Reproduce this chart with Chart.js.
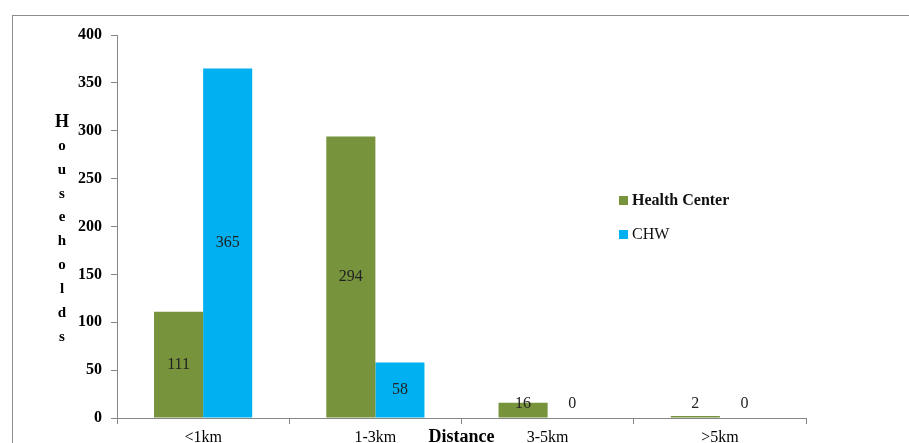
<!DOCTYPE html>
<html>
<head>
<meta charset="utf-8">
<script src="https://cdn.jsdelivr.net/npm/chart.js@4/dist/chart.umd.min.js"></script>
<style>
  html, body { margin: 0; padding: 0; background: #fff; }
  #wrap { width: 909px; height: 443px; }
</style>
</head>
<body>
<div id="wrap"><canvas id="c" width="909" height="443"></canvas></div>
<script>
// Distance categories and household counts per source of care
const distances = ['<1km', '1-3km', '3-5km', '>5km'];
const healthCenter = [111, 294, 16, 2];
const chw = [365, 58, 0, 0];
const yTicks = [0, 50, 100, 150, 200, 250, 300, 350, 400];
const seriesNames = ['Health Center', 'CHW'];
const yTitle = 'Households';
const xTitle = 'Distance';

const GREEN = '#77933C';
const BLUE = '#00B0F0';
const AXIS = '#868686';
const SERIF = '"Liberation Serif", "Times New Roman", serif';

// Outer frame around the whole chart
const framePlugin = {
  id: 'frame',
  beforeDraw(chart) {
    const ctx = chart.ctx;
    ctx.save();
    ctx.strokeStyle = '#8c8c8c';
    ctx.lineWidth = 1;
    ctx.strokeRect(12.5, 15.5, chart.width + 20, chart.height + 20);
    ctx.restore();
  }
};

// Value labels inside bars, axis titles and the legend
const annotatePlugin = {
  id: 'annotate',
  afterDatasetsDraw(chart) {
    const ctx = chart.ctx;
    ctx.save();
    ctx.font = '16px ' + SERIF;
    ctx.fillStyle = '#222';
    ctx.textAlign = 'center';
    ctx.textBaseline = 'middle';
    chart.data.datasets.forEach((ds, di) => {
      const meta = chart.getDatasetMeta(di);
      meta.data.forEach((el, i) => {
        const y = Math.min((el.y + el.base) / 2, el.base - 14);
        ctx.fillText(String(ds.data[i]), el.x, y);
      });
    });

    // Vertical stacked y title
    ctx.fillStyle = '#000';
    yTitle.split('').forEach((ch, k) => {
      ctx.font = (k === 0 ? 'bold 18px ' : 'bold 15px ') + SERIF;
      ctx.fillText(ch, 62, 122 + k * 23.9);
    });

    // x title placed between the middle category labels
    ctx.font = 'bold 18px ' + SERIF;
    const xs = chart.scales.x;
    const midX = (xs.getPixelForValue(1) + xs.getPixelForValue(2)) / 2;
    ctx.fillText(xTitle, midX, 437);

    // Legend
    const items = [
      { name: seriesNames[0], color: GREEN, font: 'bold 16px ' + SERIF, y: 200 },
      { name: seriesNames[1], color: BLUE, font: '16px ' + SERIF, y: 234 }
    ];
    ctx.textAlign = 'left';
    items.forEach(it => {
      ctx.fillStyle = it.color;
      ctx.fillRect(619, it.y - 4, 9, 9);
      ctx.fillStyle = '#111';
      ctx.font = it.font;
      ctx.fillText(it.name, 632, it.y + 1);
    });
    ctx.restore();
  }
};

new Chart(document.getElementById('c'), {
  type: 'bar',
  data: {
    labels: distances,
    datasets: [
      { label: seriesNames[0], data: healthCenter, backgroundColor: GREEN },
      { label: seriesNames[1], data: chw, backgroundColor: BLUE }
    ]
  },
  options: {
    responsive: false,
    animation: false,
    layout: { padding: { top: 35, right: 103, left: 0, bottom: 0 } },
    plugins: {
      legend: { display: false },
      tooltip: { enabled: false },
      title: { display: false }
    },
    datasets: {
      bar: { categoryPercentage: 0.57, barPercentage: 1.0 }
    },
    scales: {
      x: {
        afterFit(scale) { scale.height = 25; },
        border: { display: true, color: AXIS, width: 1 },
        grid: { display: true, drawOnChartArea: false, drawTicks: true, tickLength: 6, color: AXIS, offset: true },
        ticks: { color: '#000', font: { family: SERIF, size: 16 }, padding: 4, maxRotation: 0 }
      },
      y: {
        min: 0,
        max: yTicks[yTicks.length - 1],
        afterFit(scale) { scale.width = 117; },
        afterBuildTicks(scale) { scale.ticks = yTicks.map(v => ({ value: v })); },
        border: { display: true, color: AXIS, width: 1 },
        grid: { display: true, drawOnChartArea: false, drawTicks: true, tickLength: 6, color: AXIS },
        ticks: { color: '#000', font: { family: SERIF, size: 16, weight: 'bold' }, padding: 9 }
      }
    }
  },
  plugins: [framePlugin, annotatePlugin]
});
</script>
</body>
</html>
